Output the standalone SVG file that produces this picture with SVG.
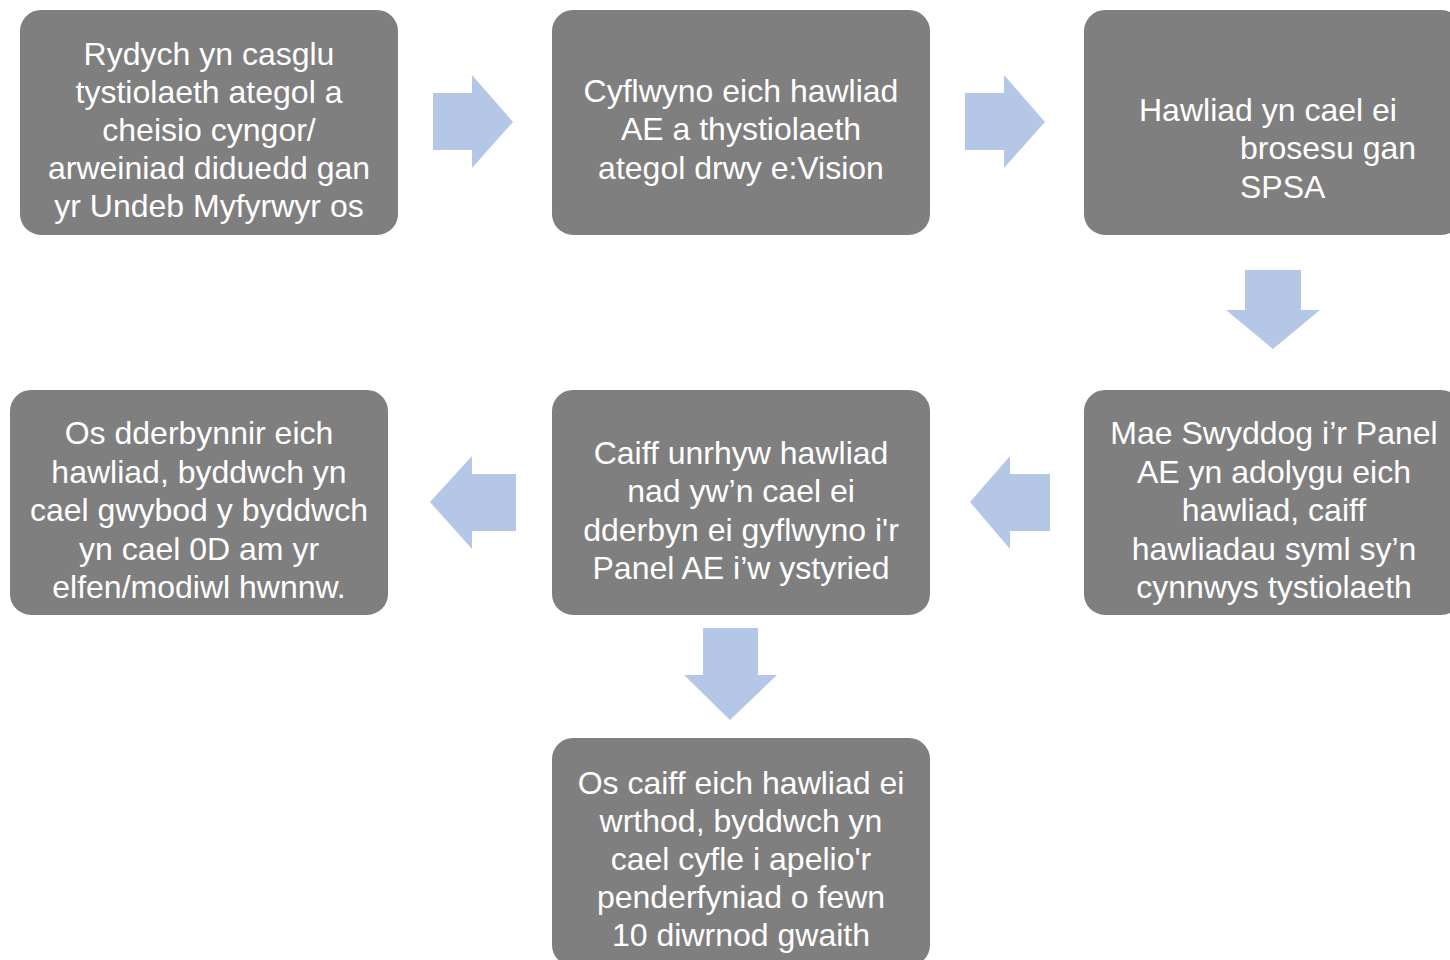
<svg xmlns="http://www.w3.org/2000/svg" width="1450" height="960" viewBox="0 0 1450 960">
<style>
.box{fill:#7f7f7f;stroke:#ffffff;stroke-width:2}
.t{font-family:"Liberation Sans",Arial,sans-serif;font-size:32px;fill:#ffffff;text-anchor:middle}
.ts{font-family:"Liberation Sans",Arial,sans-serif;font-size:32px;fill:#ffffff;text-anchor:start}
.arr{fill:#b4c7e7}
</style>
<rect width="1450" height="960" fill="#ffffff"/>
<g id="connectors">
<polygon class="arr" points="433,93 472,93 472,75 513,122 472,168 472,150 433,150"/>
<polygon class="arr" points="965,93 1004,93 1004,75 1045,122 1004,168 1004,150 965,150"/>
<polygon class="arr" points="1245,270 1301,270 1301,310 1320,310 1273,349 1226,310 1245,310"/>
<polygon class="arr" points="1050,474 1010,474 1010,456 970,502 1010,549 1010,531 1050,531"/>
<polygon class="arr" points="516,474 472,474 472,456 430,502 472,549 472,531 516,531"/>
<polygon class="arr" points="703,628 758,628 758,675 777,675 730,720 684,675 703,675"/>
</g>
<g id="n1">
<rect class="box" x="19" y="9" width="380" height="227" rx="22"/>
<text class="t" x="209" y="65">Rydych yn casglu</text>
<text class="t" x="209" y="103">tystiolaeth ategol a</text>
<text class="t" x="209" y="141">cheisio cyngor/</text>
<text class="t" x="209" y="179">arweiniad diduedd gan</text>
<text class="t" x="209" y="217">yr Undeb Myfyrwyr os</text>
</g>
<g id="n2">
<rect class="box" x="551" y="9" width="380" height="227" rx="22"/>
<text class="t" x="741" y="102">Cyflwyno eich hawliad</text>
<text class="t" x="741" y="140">AE a thystiolaeth</text>
<text class="t" x="741" y="179">ategol drwy e:Vision</text>
</g>
<g id="n3">
<rect class="box" x="1083" y="9" width="380" height="227" rx="22"/>
<text class="ts" x="1139" y="121">Hawliad yn cael ei</text>
<text class="ts" x="1240" y="159">brosesu gan</text>
<text class="ts" x="1240" y="198">SPSA</text>
</g>
<g id="n4">
<rect class="box" x="1083" y="389" width="380" height="227" rx="22"/>
<text class="t" x="1274" y="444">Mae Swyddog i’r Panel</text>
<text class="t" x="1274" y="483">AE yn adolygu eich</text>
<text class="t" x="1274" y="521">hawliad, caiff</text>
<text class="t" x="1274" y="560">hawliadau syml sy’n</text>
<text class="t" x="1274" y="598">cynnwys tystiolaeth</text>
</g>
<g id="n5">
<rect class="box" x="551" y="389" width="380" height="227" rx="22"/>
<text class="t" x="741" y="464">Caiff unrhyw hawliad</text>
<text class="t" x="741" y="502">nad yw’n cael ei</text>
<text class="t" x="741" y="541">dderbyn ei gyflwyno i'r</text>
<text class="t" x="741" y="579">Panel AE i’w ystyried</text>
</g>
<g id="n6">
<rect class="box" x="9" y="389" width="380" height="227" rx="22"/>
<text class="t" x="199" y="444">Os dderbynnir eich</text>
<text class="t" x="199" y="483">hawliad, byddwch yn</text>
<text class="t" x="199" y="521">cael gwybod y byddwch</text>
<text class="t" x="199" y="560">yn cael 0D am yr</text>
<text class="t" x="199" y="598">elfen/modiwl hwnnw.</text>
</g>
<g id="n7">
<rect class="box" x="551" y="737" width="380" height="230" rx="22"/>
<text class="t" x="741" y="794">Os caiff eich hawliad ei</text>
<text class="t" x="741" y="832">wrthod, byddwch yn</text>
<text class="t" x="741" y="870">cael cyfle i apelio'r</text>
<text class="t" x="741" y="908">penderfyniad o fewn</text>
<text class="t" x="741" y="946">10 diwrnod gwaith</text>
</g>
</svg>
